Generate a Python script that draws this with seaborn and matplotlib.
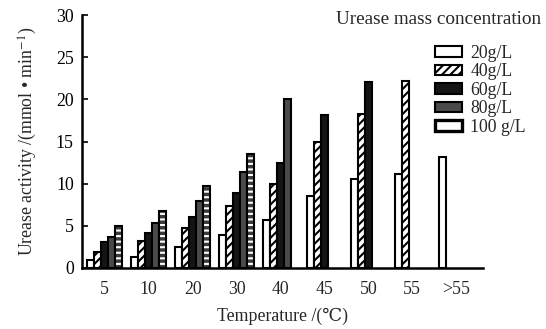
import numpy as np
import pandas as pd
import seaborn as sns
import matplotlib.pyplot as plt
from matplotlib.patches import Patch, Rectangle

temps = ['5', '10', '20', '30', '40', '45', '50', '55', '>55']
conc_labels = ['20g/L', '40g/L', '60g/L', '80g/L', '100 g/L']
c20 = [0.95, 1.35, 2.5, 3.9, 5.7, 8.5, 10.6, 11.2, 13.2]
c40 = [1.85, 3.2, 4.8, 7.3, 10.0, 14.9, 18.3, 22.2, np.nan]
c60 = [3.05, 4.1, 6.1, 8.9, 12.5, 18.2, 22.0, np.nan, np.nan]
c80 = [3.7, 5.3, 7.9, 11.4, 20.0, np.nan, np.nan, np.nan, np.nan]
c100 = [4.95, 6.7, 9.75, 13.5, np.nan, np.nan, np.nan, np.nan, np.nan]
series = [c20, c40, c60, c80, c100]

rows = []
for lab, vals in zip(conc_labels, series):
    for t, v in zip(temps, vals):
        rows.append({'Temperature': t, 'Concentration': lab, 'Activity': v})
df = pd.DataFrame(rows)

sns.set_theme(style='ticks')
plt.rcParams['font.family'] = ['Liberation Serif', 'DejaVu Serif', 'DejaVu Sans']
plt.rcParams['mathtext.fontset'] = 'stix'
plt.rcParams['hatch.linewidth'] = 1.5

FS = 12.8

fig = plt.figure(figsize=(5.46, 3.29), dpi=100)
ax = fig.add_axes([82/546, 1-268/329, (483-82)/546, (268-15)/329])

palette = {'20g/L': 'white', '40g/L': 'white', '60g/L': '#151515',
           '80g/L': '#4a4a4a', '100 g/L': '#3a3a3a'}
sns.barplot(data=df, x='Temperature', y='Activity', hue='Concentration',
            order=temps, hue_order=conc_labels, palette=palette,
            width=0.8, edgecolor='black', linewidth=1.5, saturation=1,
            legend=False, ax=ax)

# styling per series
for cont, lab in zip(ax.containers, conc_labels):
    for p in cont.patches:
        if lab == '40g/L':
            p.set_hatch('////')
        if lab == '100 g/L':
            h = p.get_height()
            if np.isfinite(h) and h > 0:
                p.set_edgecolor('white')
                p.set_hatch('---')
                p.set_linewidth(0)
                ax.add_patch(Rectangle(p.get_xy(), p.get_width(), h, fill=False,
                                       edgecolor='black', linewidth=1.5, zorder=p.get_zorder() + 0.1))

ax.set_xlim(-0.52, 8.61)
ax.set_ylim(0, 30)
ax.set_yticks([0, 5, 10, 15, 20, 25, 30])
ax.tick_params(axis='y', direction='in', length=4, width=1.2, labelsize=FS, pad=6, colors='black')
ax.tick_params(axis='x', length=0, labelsize=FS, pad=9)
for s in ['top', 'right']:
    ax.spines[s].set_visible(False)
for s in ['left', 'bottom']:
    ax.spines[s].set_linewidth(1.8)
    ax.spines[s].set_color('black')

ax.set_xlabel('Temperature /(\u2103)', fontsize=FS, labelpad=7)
ax.set_ylabel('Urease activity /(mmol \u2022 min$^{-1}$)', fontsize=FS, labelpad=12)

# legend
handles = [
    Patch(facecolor='white', edgecolor='black', linewidth=1.5),
    Patch(facecolor='white', edgecolor='black', linewidth=1.5, hatch='////'),
    Patch(facecolor='#151515', edgecolor='black', linewidth=1.5),
    Patch(facecolor='#4a4a4a', edgecolor='black', linewidth=1.5),
    Patch(facecolor='white', edgecolor='black', linewidth=2.4),
]
fig.text(541/546, 1-20/329, 'Urease mass concentration', ha='right', va='center', fontsize=13.8)
fig.legend(handles, conc_labels, loc='upper left', bbox_to_anchor=(426/546, 1-36/329),
           frameon=False, fontsize=FS, handlelength=1.5, handleheight=0.55,
           labelspacing=0.08, handletextpad=0.5, borderpad=0)

fig.savefig('out.png', dpi=100)
